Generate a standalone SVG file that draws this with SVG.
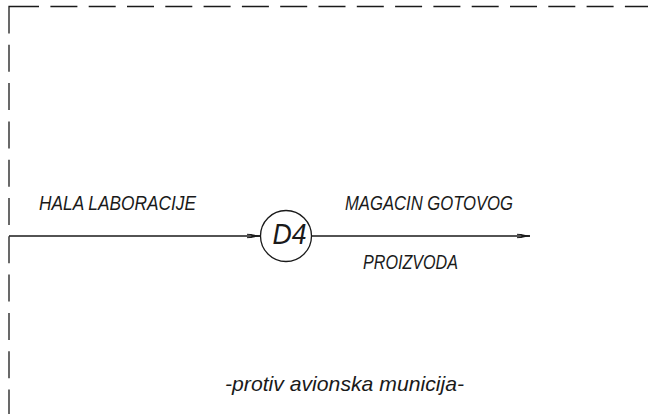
<svg xmlns="http://www.w3.org/2000/svg" width="648" height="414" viewBox="0 0 648 414">
<style>
.ln{stroke:#1a1a1a;stroke-width:1.3;fill:none}
.dash{stroke:#1a1a1a;stroke-width:1.3;fill:none;stroke-dasharray:27 11.3}
.t{font-family:"Liberation Sans",Arial,sans-serif;font-style:italic;font-size:21px;fill:#1a1a1a}
.big{font-size:30px}
</style>
<defs>
<marker id="arr" markerUnits="userSpaceOnUse" markerWidth="20" markerHeight="10" refX="16" refY="5" orient="auto" overflow="visible">
<path d="M7,5 L16,5" stroke="#1a1a1a" stroke-width="1.3"/>
<path d="M8,3.2 L16,5 L8,6.8 Z" fill="#1a1a1a"/>
<path d="M3,3.3 L8,3.6 M3,6.7 L8,6.4" stroke="#1a1a1a" stroke-width="1"/>
</marker>
</defs>
<g id="frame">
<path class="ln" d="M9,33.5 V6.5 H39"/>
<path class="dash" d="M9,44.8 V414"/>
<path class="dash" d="M50.4,6.5 H648"/>
</g>
<g id="connectors">
<path class="ln" d="M9,236 H260" marker-end="url(#arr)"/>
<path class="ln" d="M311.5,236 H530" marker-end="url(#arr)"/>
</g>
<g id="node-D4">
<circle class="ln" cx="286" cy="236" r="25.5"/>
<text class="t big" x="272.5" y="243.5" textLength="34" lengthAdjust="spacingAndGlyphs">D4</text>
</g>
<g id="labels">
<text class="t" x="39" y="209.5" textLength="157" lengthAdjust="spacingAndGlyphs">HALA LABORACIJE</text>
<text class="t" x="345" y="209.5" textLength="168" lengthAdjust="spacingAndGlyphs">MAGACIN GOTOVOG</text>
<text class="t" x="363" y="268.5" textLength="95" lengthAdjust="spacingAndGlyphs">PROIZVODA</text>
<text class="t" x="225" y="390.5" textLength="239" lengthAdjust="spacingAndGlyphs">-protiv avionska municija-</text>
</g>
</svg>
